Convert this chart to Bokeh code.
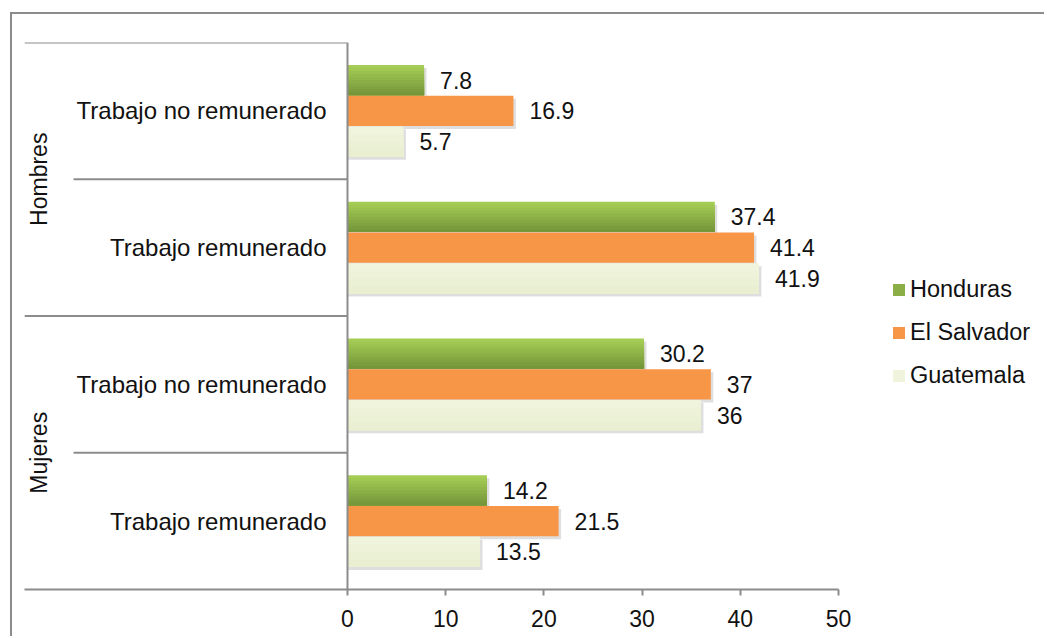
import math
from bokeh.plotting import figure
from bokeh.models import (FactorRange, Range1d, ColumnDataSource, Span, Legend, LegendItem,
                          FixedTicker, CustomJSTransform)
from bokeh.transform import dodge, transform
from bokeh.core.properties import value
from bokeh.embed import file_html
from bokeh.resources import INLINE

# ---------------- data ----------------
groups = ["Mujeres", "Mujeres", "Hombres", "Hombres"]
subgroups = ["Trabajo remunerado", "Trabajo no remunerado",
             "Trabajo remunerado", "Trabajo no remunerado"]
series_names = ["Honduras", "El Salvador", "Guatemala"]
honduras = [14.2, 30.2, 37.4, 7.8]
el_salvador = [21.5, 37, 41.4, 16.9]
guatemala = [13.5, 36, 41.9, 5.7]
x_ticks = [0, 10, 20, 30, 40, 50]
group_names = ["Hombres", "Mujeres"]

# ---------------- style ----------------
FONT = "Liberation Sans"
GRAY = "#8c8c8c"
TXT = "#111111"
x_start, x_end, x_axis_end = -32.89, 70.57, 50
BAR_H = 0.222
OFFSETS = [0.225, 0.0, -0.225]          # Honduras top, Guatemala bottom
GREEN_TOP, GREEN_BOT = (165, 205, 85), (118, 150, 58)
ORANGE = "#F79646"
PALE_TOP, PALE_BOT = (240, 244, 220), (233, 239, 208)

factors = list(zip(groups, subgroups))
yr = FactorRange(*factors)
yr.factor_padding = 0
yr.group_padding = 0
yr.range_padding = 0

W, H = 1044, 636
p = figure(width=W, height=H, output_backend="svg", toolbar_location=None,
           y_range=yr, x_range=Range1d(x_start, x_end), y_axis_location=None,
           min_border_left=24, min_border_right=4, min_border_top=42,
           min_border_bottom=H - 589)
p.outline_line_color = None
p.xgrid.visible = False
p.ygrid.visible = False
p.background_fill_color = "white"
p.border_fill_color = None
# outer chart border (left and top edges visible in the reference)
p.styles = {
    "background-color": "white",
    "background-image": "linear-gradient(#8c8c8c, #8c8c8c), linear-gradient(#8c8c8c, #8c8c8c)",
    "background-size": "2px 100%, 100% 2px",
    "background-position": "10px 12px, 10px 12px",
    "background-repeat": "no-repeat",
}

src = ColumnDataSource(dict(y=factors, hon=honduras, esv=el_salvador, gua=guatemala,
                            hon_t=[f"{v:g}" for v in honduras],
                            esv_t=[f"{v:g}" for v in el_salvador],
                            gua_t=[f"{v:g}" for v in guatemala]))
cols = ["hon", "esv", "gua"]

# soft shadows
shift = CustomJSTransform(v_func="return xs.map(x => x + 0.25)")
for c, off in zip(cols, OFFSETS):
    p.hbar(y=dodge("y", off - 0.022, range=yr), left=0, right=transform(c, shift),
           height=BAR_H, source=src, fill_color="#000000", fill_alpha=0.13, line_color=None)


def lerp(a, b, t):
    return "#%02x%02x%02x" % tuple(round(a[i] + (b[i] - a[i]) * t) for i in range(3))


def gradient_bar(col, off, top, bot, n=10):
    rends = []
    for k in range(n):
        frac = (n - k) / n
        center = off - BAR_H / 2 + BAR_H * frac / 2
        r = p.hbar(y=dodge("y", center, range=yr), left=0, right=col,
                   height=BAR_H * frac, source=src,
                   fill_color=lerp(top, bot, k / (n - 1)), line_color=None)
        rends.append(r)
    return rends


g_rends = gradient_bar("hon", OFFSETS[0], GREEN_TOP, GREEN_BOT)
o_rend = p.hbar(y=dodge("y", OFFSETS[1], range=yr), left=0, right="esv", height=BAR_H,
                source=src, fill_color=ORANGE, line_color=None)
p_rends = gradient_bar("gua", OFFSETS[2], PALE_TOP, PALE_BOT, n=4)

# value labels
for c, off in zip(cols, OFFSETS):
    p.text(x=c, y=dodge("y", off, range=yr), text=c + "_t", source=src,
           x_offset=16, text_align="left", text_baseline="middle",
           text_font=value(FONT), text_font_size="23px", text_color=TXT)

# category labels
csrc = ColumnDataSource(dict(x0=[0] * len(factors), y=factors, sub=subgroups))
p.text(x="x0", y="y", text="sub", source=csrc,
       x_offset=-21, text_align="right", text_baseline="middle",
       text_font=value(FONT), text_font_size="24px", text_color=TXT)

# group labels (rotated)
gsrc = ColumnDataSource(dict(x=[x_start] * len(group_names), y=group_names, t=group_names))
p.text(x="x", y="y", text="t", source=gsrc, angle=math.pi / 2, x_offset=14,
       text_align="center", text_baseline="middle",
       text_font=value(FONT), text_font_size="23px", text_color=TXT)

# separators between categories (label area)
sep_x0, sep_y = [], []
for i, (g, s) in enumerate(factors):
    long_line = (i == len(factors) - 1) or (groups[i + 1] != g)
    sep_x0.append(x_start if long_line else -27.9)
    sep_y.append((g, s))
ssrc = ColumnDataSource(dict(x0=sep_x0, x1=[0] * len(sep_x0), y=sep_y))
p.segment(x0="x0", x1="x1", y0=dodge("y", 0.5, range=yr), y1=dodge("y", 0.5, range=yr),
          source=ssrc, line_color=GRAY, line_width=2)

# vertical value-axis line
p.add_layout(Span(location=0, dimension="height", line_color=GRAY, line_width=2))

# x axis
ax = p.xaxis[0]
ax.ticker = FixedTicker(ticks=x_ticks)
ax.bounds = (x_start, x_axis_end)
ax.axis_line_color = GRAY
ax.axis_line_width = 2
ax.major_tick_line_color = GRAY
ax.major_tick_line_width = 2
ax.major_tick_in = 0
ax.major_tick_out = 6
ax.minor_tick_line_color = None
ax.major_label_text_font = FONT
ax.major_label_text_font_size = "23px"
ax.major_label_text_color = TXT
ax.major_label_standoff = 14

# legend
legend = Legend(items=[LegendItem(label=series_names[0], renderers=[g_rends[5]]),
                       LegendItem(label=series_names[1], renderers=[o_rend]),
                       LegendItem(label=series_names[2], renderers=[p_rends[0]])],
                location=(867, 200), orientation="vertical", padding=0, margin=0,
                spacing=16, label_height=26, glyph_height=15, glyph_width=15,
                label_standoff=4, border_line_color=None, background_fill_alpha=0,
                label_text_font=FONT, label_text_font_size="23.5px", label_text_color=TXT)
p.add_layout(legend)

open("out.html", "w").write(file_html(p, INLINE))
